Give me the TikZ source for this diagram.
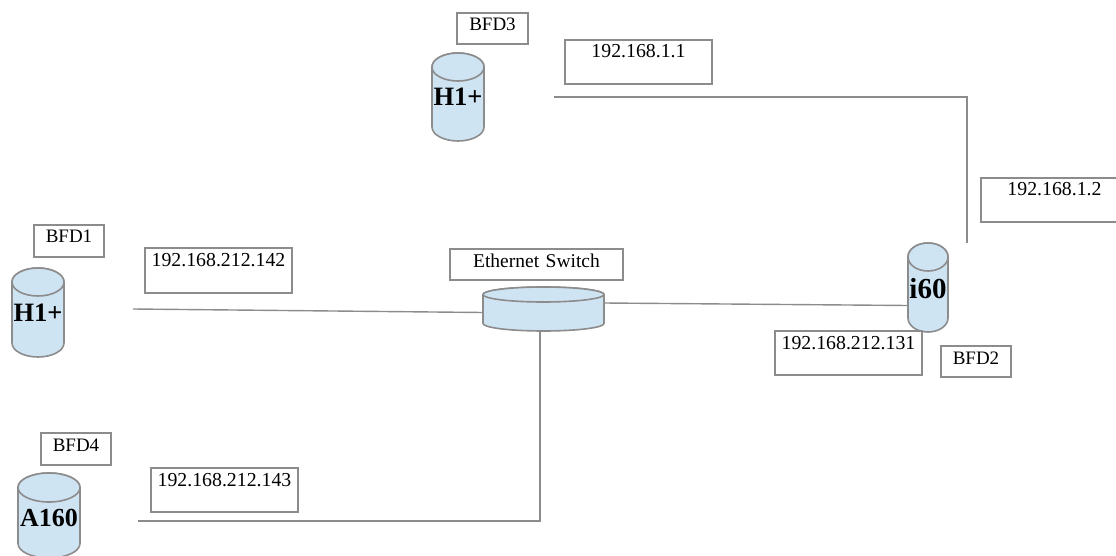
\documentclass[tikz,border=0pt]{standalone}
\usepackage{fontspec}
\setmainfont{Liberation Serif}
\definecolor{linegrey}{HTML}{8C8C8C}
\definecolor{cylblue}{HTML}{CFE4F3}
\tikzset{
  x=1pt,y=-1pt,
  wire/.style={draw=linegrey,line width=1.4pt},
  labelbox/.style n args={4}{draw=linegrey,line width=1.4pt,rectangle,anchor=north west,inner sep=0pt,outer sep=0pt,
    text width=#1 pt,align=center,text height=18pt,text depth=#2 pt,minimum height=#3 pt,font=\fontsize{#4}{20}\selectfont},
  drum/.style={draw=linegrey,line width=1.6pt,fill=cylblue,line join=round},
  drumtext/.style={font=\bfseries\fontsize{#1}{26}\selectfont,inner sep=0pt},
}
% centre x, top y, bottom y, x radius, y radius
\newcommand{\drumshape}[5]{%
  \draw[drum] ({#1-#4},{#2+#5}) -- ({#1-#4},{#3-#5})
    arc[start angle=180,end angle=360,x radius=#4pt,y radius=#5pt]
    -- ({#1+#4},{#2+#5})
    arc[start angle=0,end angle=180,x radius=#4pt,y radius=#5pt] -- cycle;
  \draw[drum] (#1,{#2+#5}) ellipse[x radius=#4pt,y radius=#5pt];
}
\begin{document}
\begin{tikzpicture}
\clip (0,0) rectangle (1116,556);
% cylinders
\drumshape{458}{53}{141}{26}{14}
\drumshape{38}{268}{357}{26}{14}
\drumshape{49}{473}{558}{31}{14.5}
\drumshape{543.5}{287}{331}{60.5}{7.5}
\drumshape{928}{243}{332}{20}{14}
\node[drumtext=26.5] (h1topt) at (458,97) {H1+};
\node[drumtext=26.5] (h1leftt) at (38,313) {H1+};
\node[drumtext=26] (a160t) at (49,518) {A160};
\node[drumtext=29] (i60t) at (928,289) {i60};
% label boxes
\node[labelbox={71}{13}{31}{19}] (bfd3) at (457,13) {BFD3};
\node[labelbox={147}{26}{44}{19.8}] (ip11) at (565,40) {192.168.1.1};
\node[labelbox={70}{14}{32}{19}] (bfd1) at (34,225) {BFD1};
\node[labelbox={147}{27}{45}{19.8}] (ip142) at (145,248) {192.168.212.142};
\node[labelbox={70}{14}{32}{19}] (bfd4) at (41,433) {BFD4};
\node[labelbox={147}{26}{44}{19.8}] (ip143) at (151,468) {192.168.212.143};
\node[labelbox={173}{13}{31}{19.5}] (ethlabel) at (450,249) {Ethernet Switch};
\node[labelbox={147}{26}{44}{19.8}] (ip12) at (981,178) {192.168.1.2};
\node[labelbox={147}{26}{44}{19.8}] (ip131) at (775,331) {192.168.212.131};
\node[labelbox={70}{13}{31}{19}] (bfd2) at (941,346) {BFD2};
% connector ends
\coordinate (topfree) at (554,97);
\coordinate (topbend) at (967,97);
\coordinate (topend) at (967,243);
\coordinate (leftfree) at (133,309);
\coordinate (swleft) at (483,312.5);
\coordinate (swright) at (604,303);
\coordinate (iwest) at (908,305.5);
\coordinate (swbottom) at (540,331);
\coordinate (botbend) at (540,521);
\coordinate (botfree) at (138,521);
\draw[wire] (topfree) -- (topbend) -- (topend);
\draw[wire] (leftfree) -- (swleft);
\draw[wire] (swright) -- (iwest);
\draw[wire] (swbottom) -- (botbend) -- (botfree);
\end{tikzpicture}
\end{document}
